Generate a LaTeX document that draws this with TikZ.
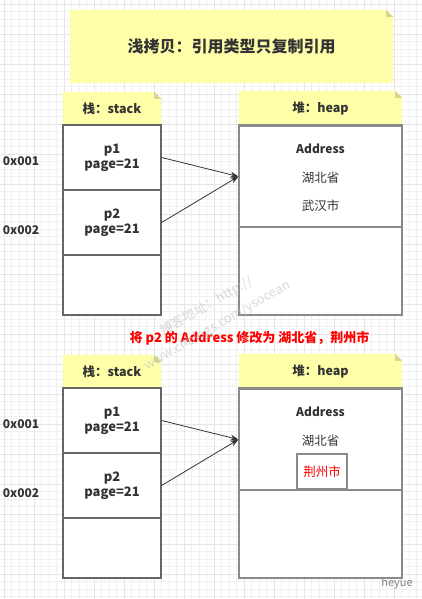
\documentclass[tikz,border=0pt]{standalone}
\usepackage{fontspec}
\setmainfont{Noto Sans CJK SC}
\usepackage{tikz}
\usetikzlibrary{arrows.meta}
\usetikzlibrary{backgrounds}
\definecolor{notefill}{HTML}{FFFFAA}
\definecolor{notefold}{HTML}{D6D68E}
\definecolor{gridminor}{HTML}{F0F0F0}
\definecolor{gridmajor}{HTML}{E5E5E5}
\definecolor{txt}{HTML}{333333}
\definecolor{stackline}{HTML}{666666}
\definecolor{heapline}{HTML}{8A8A8A}
\definecolor{mark}{HTML}{BBBBBB}
\tikzset{
  note/.style={inner sep=0pt, text=txt, font=\bfseries\fontsize{12.5}{14}\selectfont},
  cell/.style={draw=stackline, line width=1.2pt, fill=white, minimum width=98pt, inner sep=0pt,
    align=center, text=txt, font=\bfseries\fontsize{13}{15}\selectfont},
  heapcell/.style={draw=heapline, line width=1.2pt, fill=white, minimum width=163pt, inner sep=0pt},
  addr/.style={text=txt, font=\bfseries\fontsize{12}{14}\selectfont},
  city/.style={text=txt, font=\fontsize{12.5}{14}\selectfont},
  ptr/.style={draw=txt, line width=0.8pt, -{Stealth[length=8pt,width=6pt,inset=2.5pt]}}
}
\newcommand{\notefold}[1]{%
  \begin{pgfonlayer}{background}
  \fill [notefill] (#1.north west) -- ([xshift=-7pt]#1.north east) -- ([yshift=-7pt]#1.north east)
    -- (#1.south east) -- (#1.south west) -- cycle;
  \fill [notefold] ([xshift=-7pt]#1.north east) -- ([yshift=-7pt]#1.north east)
    -- ([xshift=-7pt,yshift=-7pt]#1.north east) -- cycle;
  \end{pgfonlayer}}

\begin{document}
\begin{tikzpicture}[x=1pt,y=-1pt]

\useasboundingbox (0,0) rectangle (422,599);

% grid
\begin{pgfonlayer}{background}
\foreach \i in {0,...,56} {\draw [gridminor, line width=0.6pt] (4+7.5*\i,0) -- (4+7.5*\i,599);}
\foreach \i in {0,...,80} {\draw [gridminor, line width=0.6pt] (0,4+7.5*\i) -- (422,4+7.5*\i);}
\foreach \i in {0,...,14} {\draw [gridmajor, line width=0.6pt] (4+30*\i,0) -- (4+30*\i,599);}
\foreach \i in {0,...,20} {\draw [gridmajor, line width=0.6pt] (0,4+30*\i) -- (422,4+30*\i);}
\end{pgfonlayer}

\node [note, minimum width=323pt, minimum height=73pt, font=\bfseries\fontsize{16}{18}\selectfont] (title) at (231.5,46.5) {浅拷贝：引用类型只复制引用};
\notefold{title}

\foreach \dy/\n in {0/a, 263/b} {
  \begin{scope}[shift={(0,\dy)}]
  % stack
  \node [note, minimum width=98pt, minimum height=33pt] (sh\n) at (112,108.5) {栈：stack};
  \notefold{sh\n}
  \node [cell, minimum height=65pt] (s1\n) at (112,157.5) {p1\\page=21};
  \node [cell, minimum height=65pt] (s2\n) at (112,222.5) {p2\\page=21};
  \node [cell, minimum height=60pt] (s3\n) at (112,285) {};
  \node [addr] (ad1\n) at (21,161) {0x001};
  \node [addr] (ad2\n) at (21,230) {0x002};
  % heap
  \node [note, minimum width=163pt, minimum height=35pt] (hh\n) at (320.5,108.5) {堆：heap};
  \notefold{hh\n}
  \node [heapcell, minimum height=101pt] (h1\n) at (320.5,176.5) {};
  \node [heapcell, minimum height=88pt] (h2\n) at (320.5,271) {};
  \draw [heapline, line width=3pt] (h1\n.north west) -- (h1\n.north east);
  \node [addr] (addr\n) at (320.5,149) {Address};
  \node [city] (prov\n) at (320.5,177.5) {湖北省};
  \draw [ptr] (s1\n.east) -- (h1\n.west);
  \draw [ptr] (s2\n.east) -- (h1\n.west);
  \end{scope}
}

\node [city] (citya) at (320.5,206) {武汉市};

\node [draw=heapline, line width=1.5pt, fill=white, minimum width=50pt, minimum height=35pt,
  text=red, font=\fontsize{12.5}{14}\selectfont] (cityb) at (322,471.5) {荆州市};

\node [text=red, font=\bfseries\fontsize{13}{15}\selectfont] (change) at (249.5,338) {将 p2 的 Address 修改为 湖北省，荆州市};

\node [text=gray, font=\fontsize{11}{13}\selectfont] (sign) at (397,583) {heyue};

% watermark
\node [rotate=30, text=mark, opacity=0.55, align=center, font=\fontsize{13}{22}\selectfont] (wm) at (212,316) {博客地址：http://\\www.cnblogs.com/ysocean};

\end{tikzpicture}
\end{document}
